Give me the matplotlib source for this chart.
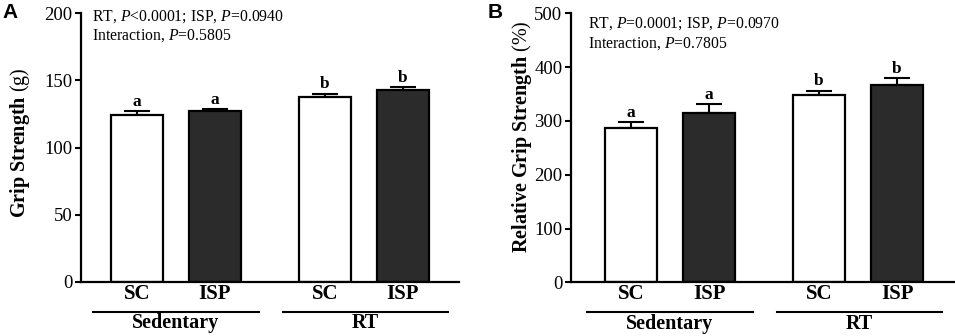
import matplotlib
matplotlib.use("Agg")
import matplotlib.pyplot as plt
import matplotlib.transforms as mtransforms

plt.rcParams['font.family'] = ['Liberation Serif', 'DejaVu Serif']
plt.rcParams['mathtext.fontset'] = 'custom'
plt.rcParams['mathtext.rm'] = 'Liberation Serif'
plt.rcParams['mathtext.it'] = 'Liberation Serif:italic'
plt.rcParams['mathtext.bf'] = 'Liberation Serif:bold'

# ---- data ----
bar_labels = ["SC", "ISP", "SC", "ISP"]
group_labels = ["Sedentary", "RT"]
grip_mean = [124, 127, 138, 143]
grip_err = [3, 1.5, 2, 2]
rel_mean = [287, 314, 349, 367]
rel_err = [11, 17, 7, 12]
sig_letters = ["a", "a", "b", "b"]
grip_ticks = [0, 50, 100, 150, 200]
rel_ticks = [0, 100, 200, 300, 400, 500]
annot_A = ["RT, $\\it{P}$<0.0001; ISP, $\\it{P}$=0.0940", "Interaction, $\\it{P}$=0.5805"]
annot_B = ["RT, $\\it{P}$=0.0001; ISP, $\\it{P}$=0.0970", "Interaction, $\\it{P}$=0.7805"]

xpos = [0, 1, 2.41, 3.41]
group_centers = [0.5, 2.93]
colors = ["white", "#2b2b2b", "white", "#2b2b2b"]

fig = plt.figure(figsize=(9.55, 3.36), dpi=100)
axA = fig.add_axes([0.0848, 0.1616, 0.3958, 0.7988])
axB = fig.add_axes([0.5976, 0.1598, 0.4014, 0.8006])


def draw(ax, means, errs, ticks, ymax, ylabel, annot, xlim, ann_xy, ylab_xy):
    ax.bar(xpos, means, width=0.667, color=colors, edgecolor="black", linewidth=1.6, zorder=2)
    ax.errorbar(xpos, means, yerr=[[0] * 4, errs], fmt="none", ecolor="black",
                elinewidth=1.5, capsize=9.5, capthick=1.5, zorder=1)
    for x, m, e, s in zip(xpos, means, errs, sig_letters):
        ax.annotate(s, (x, m + e), xytext=(0, 1.0), textcoords="offset points",
                    ha="center", va="bottom", fontsize=12.5, fontweight="bold")
    ax.set_ylim(0, ymax)
    ax.set_xlim(*xlim)
    ax.set_yticks(ticks)
    ax.set_yticklabels([str(t) for t in ticks], fontsize=13.5)
    ax.set_xticks([])
    for sp in ["top", "right"]:
        ax.spines[sp].set_visible(False)
    for sp in ["left", "bottom"]:
        ax.spines[sp].set_linewidth(1.6)
    ax.tick_params(axis="y", direction="out", length=4.5, width=1.5, pad=1.5)
    trans = mtransforms.blended_transform_factory(ax.transData, ax.transAxes)
    for x, lab in zip(xpos, bar_labels):
        ax.text(x, -0.045, lab, transform=trans, ha="center", va="center",
                fontsize=15, fontweight="bold")
    for c, g in zip(group_centers, group_labels):
        ax.plot([c - 1.06, c + 1.06], [-0.112, -0.112], transform=trans, color="black",
                linewidth=1.5, clip_on=False)
        ax.text(c, -0.155, g, transform=trans, ha="center", va="center",
                fontsize=14.5, fontweight="bold")
    ax.text(ann_xy[0], ann_xy[1], annot[0], transform=ax.transAxes, ha="left", va="center",
            fontsize=11.3)
    ax.text(ann_xy[0], ann_xy[2], annot[1], transform=ax.transAxes, ha="left", va="center",
            fontsize=11.3)
    fig.text(ylab_xy[0], ylab_xy[1], ylabel,
             rotation=90, ha="center", va="center", fontsize=14.5)
    return ax


draw(axA, grip_mean, grip_err, grip_ticks, 200, "$\\mathbf{Grip\\ Strength}$ (g)",
     annot_A, (-0.718, 4.128), (0.029, 0.986, 0.915), (20 / 955, 1 - 143 / 336))
draw(axB, rel_mean, rel_err, rel_ticks, 500, "$\\mathbf{Relative\\ Grip\\ Strength}$ (%)",
     annot_B, (-0.773, 4.14), (0.046, 0.960, 0.888), (522 / 955, 1 - 137 / 336))

fig.text(2 / 955, 1 - 12 / 336, "A", fontsize=15, fontweight="bold",
         family="Liberation Sans", ha="left", va="center")
fig.text(488 / 955, 1 - 12 / 336, "B", fontsize=15, fontweight="bold",
         family="Liberation Sans", ha="left", va="center")

fig.savefig("out.png", dpi=100)
